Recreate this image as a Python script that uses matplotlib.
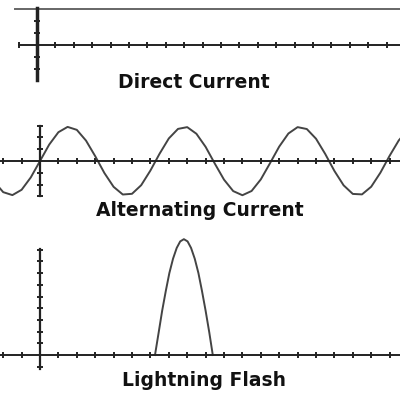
import matplotlib
matplotlib.use('Agg')
import matplotlib.pyplot as plt

# Direct current: constant level
dc_x = [-1.2, 19.8]
dc_y = [3.0, 3.0]

# Alternating current, every half tick
ac_x = [-2.5, -2.0, -1.5, -1.0, -0.5, 0.0, 0.5, 1.0, 1.5, 2.0, 2.5, 3.0, 3.5,
        4.0, 4.5, 5.0, 5.5, 6.0, 6.5, 7.0, 7.5, 8.0, 8.5, 9.0, 9.5, 10.0,
        10.5, 11.0, 11.5, 12.0, 12.5, 13.0, 13.5, 14.0, 14.5, 15.0, 15.5,
        16.0, 16.5, 17.0, 17.5, 18.0, 18.5, 19.0, 19.5, 20.0]
ac_y = [-1.73, -2.64, -2.89, -2.44, -1.39, 0.0, 1.39, 2.44, 2.89, 2.64, 1.73,
        0.41, -1.02, -2.19, -2.84, -2.78, -2.05, -0.81, 0.62, 1.91, 2.72, 2.87,
        2.31, 1.20, -0.22, -1.58, -2.55, -2.90, -2.54, -1.56, -0.19, 1.22,
        2.33, 2.87, 2.71, 1.89, 0.60, -0.84, -2.06, -2.79, -2.83, -2.18,
        -0.99, 0.44, 1.75, 2.65]

# Lightning flash: single narrow pulse
flash_x = [6.25, 6.45, 6.64, 6.84, 7.03, 7.23, 7.43, 7.62, 7.82, 8.02, 8.21,
           8.41, 8.61, 8.80, 9.00, 9.20, 9.39]
flash_y = [0.0, 1.93, 3.79, 5.50, 7.00, 8.23, 9.15, 9.71, 9.90, 9.71, 9.15,
           8.23, 7.00, 5.50, 3.79, 1.93, 0.0]

titles = ['Direct Current', 'Alternating Current', 'Lightning Flash']

W = H = 400
SX = 18.4  # px per x unit


def add_panel(fig, top, bottom, ox, oy, sy):
    """Axes spanning the full width, origin placed at pixel (ox, oy)."""
    ax = fig.add_axes([0, 1 - bottom / H, 1, (bottom - top) / H])
    ax.set_xlim(-ox / SX, (W - ox) / SX)
    ax.set_ylim(-(bottom - oy) / sy, (oy - top) / sy)
    ax.patch.set_visible(False)
    for s in ('top', 'right'):
        ax.spines[s].set_visible(False)
    ax.spines['left'].set_position(('data', 0))
    ax.spines['bottom'].set_position(('data', 0))
    ax.spines['left'].set_color('#222222')
    ax.spines['bottom'].set_color('#222222')
    ax.spines['bottom'].set_linewidth(1.4)
    ax.tick_params(direction='inout', length=5, width=1.4, color='#222222',
                   labelbottom=False, labelleft=False)
    return ax


fig = plt.figure(figsize=(4, 4), dpi=100)

# Direct current
ax1 = add_panel(fig, 0, 85, 37, 45, 12)
ax1.plot(dc_x, dc_y, color='#666666', lw=1.4)
ax1.spines['left'].set_bounds(-2.9, 3.1)
ax1.spines['left'].set_linewidth(2.5)
ax1.spines['bottom'].set_bounds(-1.0, 21)
ax1.set_xticks([-1] + list(range(1, 20)))
ax1.set_yticks([-2, -1, 1, 2])

# Alternating current
ax2 = add_panel(fig, 115, 200, 40, 161, 11.8)
ax2.plot(ac_x, ac_y, color='#444444', lw=1.4)
ax2.spines['left'].set_bounds(-3, 3)
ax2.spines['left'].set_linewidth(1.6)
ax2.set_xticks([-2, -1] + list(range(1, 20)))
ax2.set_yticks([-3, -2, -1, 1, 2, 3])

# Lightning flash
ax3 = add_panel(fig, 230, 378, 40, 355, 11.7)
ax3.plot(flash_x, flash_y, color='#444444', lw=1.4)
ax3.spines['left'].set_bounds(-1.2, 9.1)
ax3.spines['left'].set_linewidth(1.6)
ax3.set_xticks([-2, -1] + list(range(1, 20)))
ax3.set_yticks([-1] + list(range(1, 10)))

label_pos = [(194, 83), (200, 210), (204, 380)]
for t, (px, py) in zip(titles, label_pos):
    fig.text(px / W, 1 - py / H, t, ha='center', va='center',
             fontsize=13.5, fontweight='bold', color='#111111',
             family='DejaVu Sans')

fig.savefig('out.png', dpi=100)
plt.close(fig)
